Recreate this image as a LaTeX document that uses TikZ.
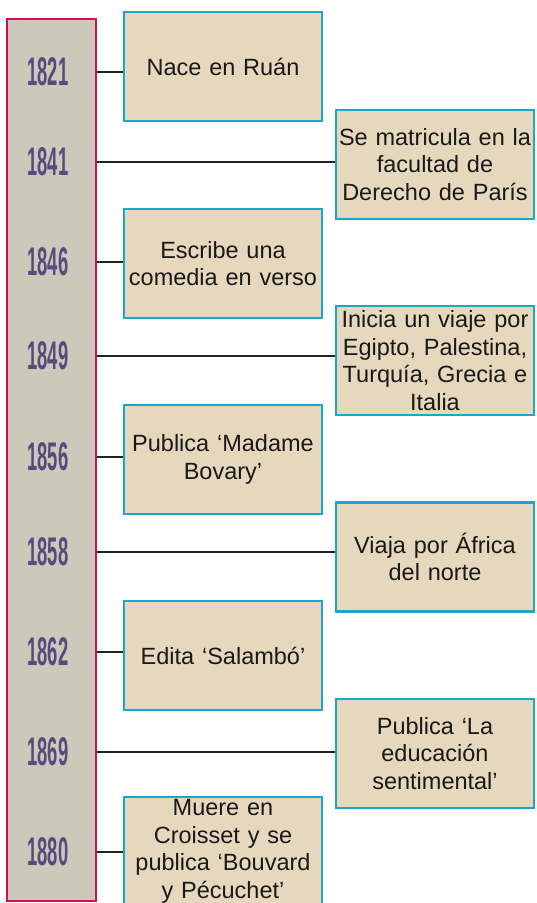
\documentclass[tikz,border=0pt]{standalone}
\usepackage{fontspec}
\usepackage{xcolor}
\usepackage{tikz}
\setmainfont{Liberation Sans}
\newfontfamily\yearfont[FakeStretch=0.46]{Liberation Sans}

\definecolor{barpink}{HTML}{CC1055}
\definecolor{barfill}{HTML}{CDC8B9}
\definecolor{boxcyan}{HTML}{17A8CB}
\definecolor{boxfill}{HTML}{E6D8BC}
\definecolor{yearpurple}{HTML}{574A7E}
\definecolor{linegray}{HTML}{222222}

\tikzset{
	bar/.style={draw=barpink,fill=barfill,line width=2.5pt,minimum width=89pt,minimum height=882pt,inner sep=0pt},
	yearlbl/.style={text=yearpurple,font=\yearfont\bfseries\fontsize{40}{40}\selectfont,inner sep=0pt},
	event/.style={draw=boxcyan,fill=boxfill,line width=2.5pt,minimum width=198pt,minimum height=109pt,
		text width=196pt,align=center,inner sep=0pt,text=black!90,font=\fontsize{23.5}{27.5}\selectfont},
	conn/.style={draw=linegray,line width=2.2pt}
}

\begin{document}
\begin{tikzpicture}[x=1pt,y=-1pt]
	\useasboundingbox[fill=white] (0,0) rectangle (536,903);
	
	\node[bar] (bar) at (51.5,460) {};
	
	\foreach \yr/\y in {1821/72,1841/162,1846/262,1849/356,1856/457,1858/552,1862/652,1869/752,1880/852}{
		\node[yearlbl] (y\yr) at (48,\y) {\yr};
	}
	
	% left column
	\node[event] (e1821) at (223,66.5) {Nace en Ruán};
	\node[event] (e1846) at (223,263.5) {Escribe una\\comedia en verso};
	\node[event] (e1856) at (223,459.5) {Publica ‘Madame\\Bovary’};
	\node[event] (e1862) at (223,655.5) {Edita ‘Salambó’};
	\node[event] (e1880) at (223,851.5) {Muere en\\Croisset y se\\publica ‘Bouvard\\y Pécuchet’};
	
	% right column
	\node[event] (e1841) at (435,164.5) {Se matricula en la\\facultad de\\Derecho de París};
	\node[event] (e1849) at (435,360.5) {Inicia un viaje por\\Egipto, Palestina,\\Turquía, Grecia e\\Italia};
	\node[event] (e1858) at (435,557) {Viaja por África\\del norte};
	\node[event] (e1869) at (435,753.5) {Publica ‘La\\educación\\sentimental’};
	
	\foreach \yr in {1821,1841,1846,1849,1856,1858,1862,1869,1880}{
		\draw[conn] (bar.east |- y\yr.center) -- (e\yr.west |- y\yr.center);
	}
\end{tikzpicture}
\end{document}
